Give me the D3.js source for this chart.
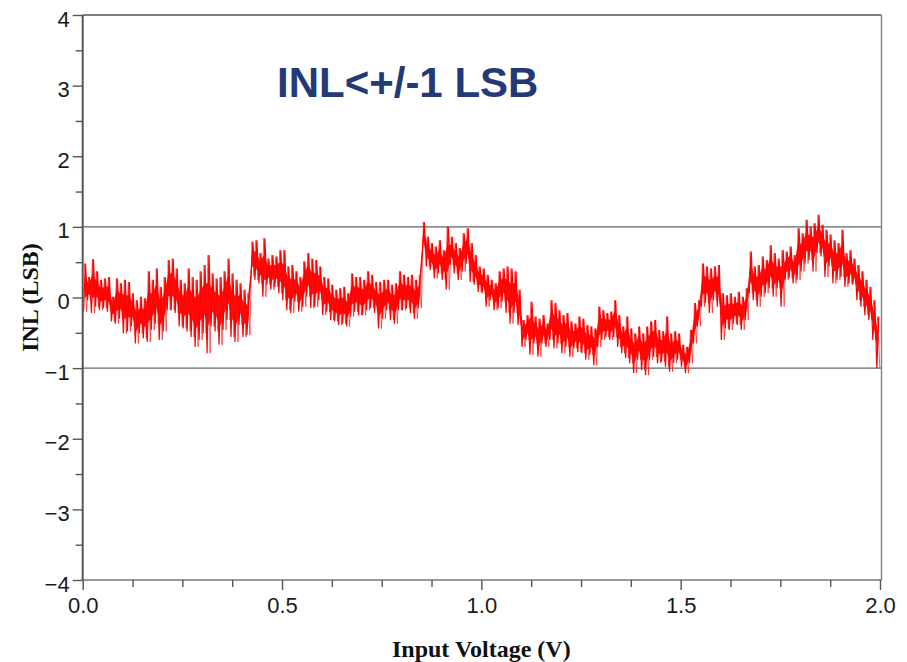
<!DOCTYPE html>
<html>
<head>
<meta charset="utf-8">
<script src="https://cdn.jsdelivr.net/npm/d3@7"></script>
<style>
    body { margin: 0; background: #ffffff; }
</style>
</head>
<body>
<div id="chart"></div>
<script>
// INL vs input voltage in 0.01 V bins
// each bin keeps the top and bottom of the noisy trace (LSB)

var binStep = 0.01;

var inlHigh = [
    0.48, 0.29, 0.54, 0.37, 0.25, 0.27, 0.29, 0.01, 0.27, 0.20,
    0.25, 0.22, 0.06, -0.04, 0.01, -0.01, 0.37, 0.25, 0.41, 0.15,
    0.29, 0.53, 0.55, 0.41, 0.25, 0.20, 0.41, 0.29, 0.25, 0.37,
    0.46, 0.60, 0.34, 0.27, 0.29, 0.37, 0.55, 0.34, 0.25, 0.20,
    0.11, 0.06, 0.79, 0.81, 0.63, 0.84, 0.55, 0.60, 0.58, 0.67,

    0.67, 0.44, 0.46, 0.37, 0.29, 0.51, 0.63, 0.55, 0.53, 0.44,
    0.29, 0.27, 0.18, 0.11, 0.13, 0.15, 0.06, 0.34, 0.29, 0.29,
    0.25, 0.37, 0.32, 0.22, 0.22, 0.25, 0.25, 0.18, 0.20, 0.37,
    0.32, 0.29, 0.32, 0.25, 0.32, 1.07, 0.86, 0.77, 0.72, 0.81,
    0.67, 1.00, 0.86, 0.77, 0.70, 0.91, 0.98, 0.77, 0.60, 0.44,

    0.41, 0.32, 0.25, 0.20, 0.37, 0.41, 0.44, 0.41, 0.37, 0.11,
    -0.32, -0.25, -0.06, -0.27, -0.30, -0.25, -0.37, -0.04, -0.08, -0.18,
    -0.25, -0.22, -0.34, -0.37, -0.27, -0.30, -0.39, -0.41, -0.44, -0.13,
    -0.18, -0.22, -0.20, -0.04, -0.25, -0.41, -0.27, -0.44, -0.51, -0.41,
    -0.51, -0.41, -0.34, -0.32, -0.46, -0.48, -0.27, -0.51, -0.48, -0.51,

    -0.67, -0.70, -0.46, -0.08, -0.04, 0.48, 0.44, 0.41, 0.44, 0.46,
    0.06, 0.03, 0.06, 0.01, 0.08, 0.01, 0.13, 0.65, 0.44, 0.46,
    0.58, 0.53, 0.74, 0.63, 0.55, 0.67, 0.65, 0.72, 0.60, 0.98,
    0.91, 1.10, 1.00, 1.05, 1.17, 1.03, 0.96, 0.89, 0.81, 0.77,
    0.96, 0.63, 0.67, 0.55, 0.46, 0.37, 0.25, 0.15, -0.04, -0.27
];

var inlLow = [
    -0.20, -0.04, -0.22, -0.13, -0.18, -0.15, -0.20, -0.34, -0.37, -0.30,
    -0.51, -0.48, -0.41, -0.65, -0.51, -0.58, -0.63, -0.46, -0.37, -0.60,
    -0.48, -0.18, -0.18, -0.22, -0.41, -0.44, -0.48, -0.56, -0.70, -0.60,
    -0.51, -0.79, -0.41, -0.48, -0.67, -0.46, -0.32, -0.56, -0.63, -0.39,
    -0.56, -0.53, 0.30, 0.25, 0.20, 0.01, 0.18, 0.11, 0.15, 0.06,

    -0.04, -0.18, -0.22, -0.06, -0.20, -0.13, 0.01, -0.15, -0.13, -0.04,
    -0.25, -0.20, -0.32, -0.34, -0.39, -0.37, -0.41, -0.27, -0.20, -0.25,
    -0.25, -0.18, -0.15, -0.22, -0.44, -0.30, -0.18, -0.32, -0.37, -0.18,
    -0.18, -0.15, -0.22, -0.30, -0.15, 0.67, 0.44, 0.39, 0.27, 0.34,
    0.25, 0.11, 0.46, 0.34, 0.25, 0.37, 0.48, 0.22, 0.18, 0.08,

    0.06, -0.13, -0.04, -0.18, -0.15, -0.06, -0.22, -0.37, -0.22, -0.39,
    -0.70, -0.60, -0.81, -0.65, -0.84, -0.65, -0.70, -0.60, -0.72, -0.65,
    -0.79, -0.70, -0.84, -0.72, -0.77, -0.79, -0.88, -0.81, -0.96, -0.70,
    -0.60, -0.56, -0.60, -0.56, -0.70, -0.79, -0.86, -0.93, -1.07, -0.88,
    -1.03, -1.10, -0.88, -0.84, -0.93, -0.91, -0.98, -1.05, -0.93, -0.88,

    -0.98, -1.07, -0.93, -0.65, -0.41, -0.13, -0.08, -0.22, -0.04, -0.13,
    -0.60, -0.44, -0.46, -0.37, -0.39, -0.46, -0.32, 0.06, -0.04, -0.13,
    0.01, 0.06, 0.13, 0.01, 0.13, -0.13, 0.25, 0.27, 0.20, 0.25,
    0.37, 0.48, 0.53, 0.37, 0.63, 0.58, 0.29, 0.44, 0.20, 0.25,
    0.29, 0.15, 0.20, 0.18, -0.04, -0.13, -0.25, -0.32, -0.60, -1.00
];

var xMajorTicks = [0.0, 0.5, 1.0, 1.5, 2.0];
var xMinorTicks = [0.125, 0.25, 0.375, 0.625, 0.75, 0.875, 1.125, 1.25, 1.375, 1.625, 1.75, 1.875];
var yMajorTicks = [-4, -3, -2, -1, 0, 1, 2, 3, 4];
var yMinorTicks = [-3.5, -2.5, -1.5, -0.5, 0.5, 1.5, 2.5, 3.5];
var limitLines = [-1, 1];

var titleText = "INL<+/-1 LSB";
var xTitle = "Input Voltage (V)";
var yTitle = "INL (LSB)";

(function() {

    var width = 907;
    var height = 662;

    var plotLeft = 82.7;
    var plotRight = 880;
    var plotTop = 15;
    var plotBottom = 580;

    var svg = d3.select("#chart")
        .append("svg")
        .attr("width", width)
        .attr("height", height);

    svg.append("rect")
        .attr("width", width)
        .attr("height", height)
        .attr("fill", "#ffffff");

    var x = d3.scaleLinear().domain([0, 2]).range([plotLeft, plotRight]);
    var y = d3.scaleLinear().domain([-4, 4]).range([plotBottom, plotTop]);

    // two zigzags per bin (low->high and high->low) so the trace looks dense
    var traceUp = [];
    var traceDown = [];
    inlHigh.forEach(function(hi, i) {
        traceUp.push({ v: (i + 0.2) * binStep, inl: inlLow[i] });
        traceUp.push({ v: (i + 0.7) * binStep, inl: hi });
        traceDown.push({ v: (i + 0.45) * binStep, inl: hi });
        traceDown.push({ v: (i + 0.95) * binStep, inl: inlLow[i] });
    });

    // solid core: the middle part of each bin's range
    var core = inlHigh.map(function(hi, i) {
        var span = hi - inlLow[i];
        return {
            v: (i + 0.5) * binStep,
            top: hi - span * 0.28,
            bottom: inlLow[i] + span * 0.28
        };
    });

    var line = d3.line()
        .x(function(d) { return x(d.v); })
        .y(function(d) { return y(d.inl); });

    var area = d3.area()
        .x(function(d) { return x(d.v); })
        .y0(function(d) { return y(d.bottom); })
        .y1(function(d) { return y(d.top); });

    // +/-1 LSB limits
    svg.selectAll(".limit")
        .data(limitLines)
        .enter()
        .append("line")
        .attr("class", "limit")
        .attr("x1", plotLeft)
        .attr("x2", plotRight + 1.5)
        .attr("y1", function(d) { return y(d); })
        .attr("y2", function(d) { return y(d); })
        .attr("stroke", "#666666")
        .attr("stroke-width", 1.3);

    svg.append("path")
        .datum(core)
        .attr("fill", "#ff0000")
        .attr("opacity", 0.9)
        .attr("d", area);

    svg.append("path")
        .datum(traceDown)
        .attr("fill", "none")
        .attr("stroke", "#ff0000")
        .attr("stroke-opacity", 0.6)
        .attr("stroke-width", 1)
        .attr("d", line);

    svg.append("path")
        .datum(traceUp)
        .attr("fill", "none")
        .attr("stroke", "#ff0000")
        .attr("stroke-width", 1.2)
        .attr("d", line);

    // frame: top and right are thin, left axis heavier
    svg.append("line")
        .attr("x1", plotLeft).attr("x2", plotRight + 1.5)
        .attr("y1", plotTop).attr("y2", plotTop)
        .attr("stroke", "#555555").attr("stroke-width", 1.4);

    svg.append("line")
        .attr("x1", plotRight + 1.5).attr("x2", plotRight + 1.5)
        .attr("y1", plotTop).attr("y2", plotBottom)
        .attr("stroke", "#8a8a8a").attr("stroke-width", 1.5);

    svg.append("line")
        .attr("x1", plotLeft).attr("x2", plotRight + 1.5)
        .attr("y1", plotBottom).attr("y2", plotBottom)
        .attr("stroke", "#333333").attr("stroke-width", 1.2);

    svg.append("line")
        .attr("x1", plotLeft).attr("x2", plotLeft)
        .attr("y1", plotTop).attr("y2", plotBottom)
        .attr("stroke", "#555555").attr("stroke-width", 2);

    var tickFont = "'Liberation Sans', Arial, Helvetica, sans-serif";

    // x axis
    var xAxis = svg.append("g")
        .attr("transform", "translate(0," + plotBottom + ")")
        .call(d3.axisBottom(x)
            .tickValues(xMajorTicks)
            .tickSizeInner(10)
            .tickSizeOuter(0)
            .tickPadding(7)
            .tickFormat(d3.format(".1f")));

    svg.append("g")
        .attr("transform", "translate(0," + plotBottom + ")")
        .call(d3.axisBottom(x)
            .tickValues(xMinorTicks)
            .tickSizeInner(7)
            .tickSizeOuter(0)
            .tickFormat(""))
        .select(".domain").remove();

    // y axis
    var yAxis = svg.append("g")
        .attr("transform", "translate(" + plotLeft + ",0)")
        .call(d3.axisLeft(y)
            .tickValues(yMajorTicks)
            .tickSizeInner(10)
            .tickSizeOuter(0)
            .tickPadding(3)
            .tickFormat(d3.format("d")));

    svg.append("g")
        .attr("transform", "translate(" + plotLeft + ",0)")
        .call(d3.axisLeft(y)
            .tickValues(yMinorTicks)
            .tickSizeInner(7)
            .tickSizeOuter(0)
            .tickFormat(""))
        .select(".domain").remove();

    xAxis.select(".domain").remove();
    yAxis.select(".domain").remove();

    svg.selectAll(".tick line")
        .attr("stroke", "#555555")
        .attr("stroke-width", 1.4);

    xAxis.selectAll("text")
        .attr("font-family", tickFont)
        .attr("font-size", "22px")
        .attr("fill", "#1a1a1a");

    yAxis.selectAll("text")
        .attr("font-family", tickFont)
        .attr("font-size", "22px")
        .attr("fill", "#1a1a1a")
        .attr("dy", "0.5em");

    // titles
    svg.append("text")
        .attr("x", 277)
        .attr("y", 97)
        .attr("fill", "#233a76")
        .attr("font-family", tickFont)
        .attr("font-size", "42px")
        .attr("font-weight", "bold")
        .text(titleText);

    svg.append("text")
        .attr("x", (plotLeft + plotRight) / 2)
        .attr("y", 657)
        .attr("text-anchor", "middle")
        .attr("fill", "#111111")
        .attr("font-family", "'Liberation Serif', 'Times New Roman', serif")
        .attr("font-size", "24px")
        .attr("font-weight", "bold")
        .text(xTitle);

    svg.append("text")
        .attr("transform", "translate(38," + y(0) + ") rotate(-90)")
        .attr("text-anchor", "middle")
        .attr("fill", "#111111")
        .attr("font-family", "'Liberation Serif', 'Times New Roman', serif")
        .attr("font-size", "24px")
        .attr("font-weight", "bold")
        .text(yTitle);

})();
</script>
</body>
</html>
